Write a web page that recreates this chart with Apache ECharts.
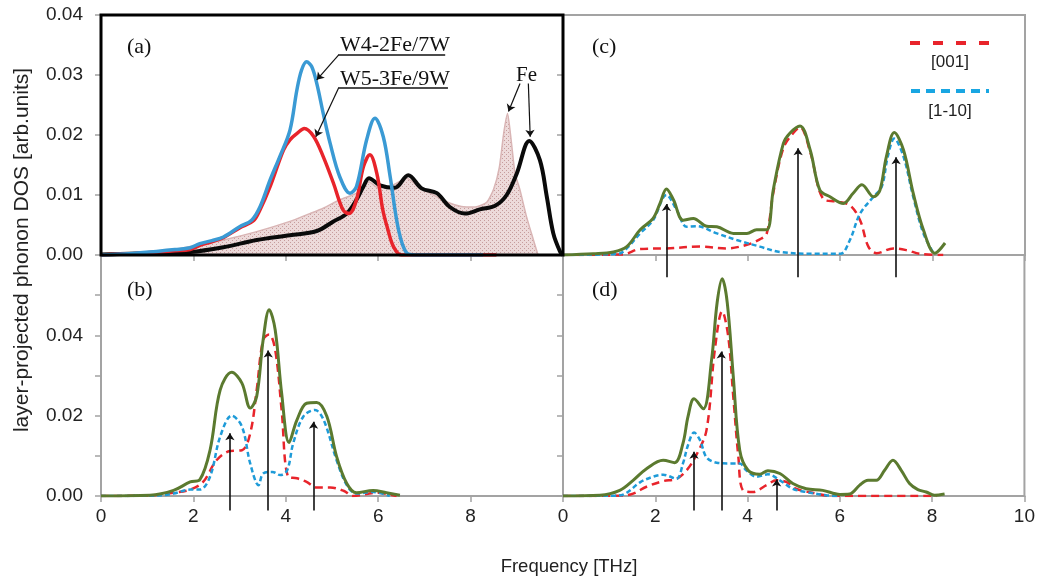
<!DOCTYPE html>
<html><head><meta charset="utf-8">
<script src="https://cdn.jsdelivr.net/npm/echarts/dist/echarts.min.js"></script>
<style>html,body{margin:0;padding:0;background:#fff}#c{width:1038px;height:582px}</style>
</head><body><div id="c"></div>
<script>
// ---------- data (frequency THz, DOS) ----------
const xTicks = [0, 2, 4, 6, 8, 10];
// panel (a)
const aBlue = [[0,0],[0.6,0.0002],[1.2,0.0006],[1.6,0.0009],[1.93,0.0012],[2.14,0.0019],[2.4,0.0024],[2.65,0.003],[3.0,0.0047],[3.26,0.0058],[3.44,0.008],[3.66,0.0125],[3.87,0.0164],[4.09,0.0208],[4.24,0.0275],[4.34,0.0308],[4.45,0.0322],[4.56,0.0314],[4.67,0.0286],[4.81,0.0236],[4.96,0.0186],[5.17,0.013],[5.39,0.0103],[5.53,0.0114],[5.75,0.0192],[5.93,0.0228],[6.11,0.0197],[6.26,0.013],[6.44,0.0042],[6.62,0.0003],[6.8,0],[8.27,0]];
const aRed = [[0,0],[0.6,0.0002],[1.2,0.0005],[1.6,0.0007],[1.93,0.0009],[2.14,0.0016],[2.4,0.0022],[2.65,0.0029],[3.0,0.0045],[3.3,0.0057],[3.44,0.0075],[3.66,0.0114],[3.95,0.0175],[4.09,0.0192],[4.25,0.0203],[4.4,0.0211],[4.6,0.0198],[4.81,0.0164],[5.03,0.012],[5.24,0.0075],[5.37,0.0069],[5.53,0.0092],[5.68,0.0147],[5.82,0.0167],[5.97,0.0136],[6.1,0.0075],[6.2,0.0045],[6.33,0.0014],[6.5,0],[7.5,0],[8.56,0]];
const aBlack = [[0,0.0001],[1.0,0.0003],[1.93,0.0005],[2.65,0.0013],[3.37,0.0025],[4.09,0.0033],[4.67,0.004],[5.03,0.0056],[5.32,0.0069],[5.53,0.0092],[5.68,0.0114],[5.8,0.0128],[6.04,0.0116],[6.36,0.0112],[6.65,0.0133],[6.94,0.0111],[7.27,0.0103],[7.55,0.008],[7.88,0.0069],[8.2,0.0076],[8.53,0.0082],[8.78,0.01],[9.0,0.0136],[9.27,0.019],[9.5,0.0158],[9.65,0.0097],[9.79,0.0036],[9.94,0.0005],[10,0]];
const aFe = [[0,0],[1.0,0.0003],[1.5,0.0008],[1.93,0.0014],[2.65,0.0025],[3.37,0.0039],[4.09,0.0056],[4.52,0.0069],[4.81,0.0078],[5.17,0.0092],[5.53,0.0103],[5.8,0.0122],[6.0,0.0112],[6.3,0.0116],[6.62,0.0128],[6.9,0.0112],[7.2,0.01],[7.5,0.0088],[7.8,0.0081],[8.1,0.008],[8.35,0.0088],[8.5,0.011],[8.62,0.0145],[8.72,0.0205],[8.8,0.0236],[8.88,0.019],[8.96,0.0137],[9.07,0.0108],[9.21,0.0064],[9.36,0.0025],[9.46,0]];
// panel (b)
const bGreen = [[0,0],[1.06,0.0002],[1.57,0.0014],[1.93,0.0035],[2.14,0.0041],[2.36,0.0114],[2.58,0.0264],[2.83,0.0308],[3.05,0.0281],[3.23,0.0219],[3.37,0.0248],[3.51,0.0389],[3.64,0.0464],[3.77,0.0414],[3.91,0.0256],[4.07,0.0133],[4.24,0.0189],[4.45,0.0231],[4.67,0.0233],[4.89,0.0198],[5.1,0.0098],[5.32,0.0031],[5.53,0.0008],[5.89,0.0014],[6.18,0.0008],[6.47,0.0002]];
const bRed = [[0,0],[1.0,0.0001],[1.57,0.0008],[1.93,0.0016],[2.21,0.0035],[2.5,0.0089],[2.79,0.0112],[3.05,0.0114],[3.23,0.0156],[3.37,0.0264],[3.51,0.0389],[3.64,0.0402],[3.77,0.0364],[3.91,0.0214],[4.05,0.0048],[4.24,0.0044],[4.45,0.0035],[4.67,0.0021],[4.96,0.0021],[5.25,0.0013],[5.46,0],[5.97,0.0008],[6.4,0]];
const bBlue = [[0,0],[1.2,0.0001],[1.57,0.0006],[1.93,0.0016],[2.14,0.0016],[2.36,0.0048],[2.58,0.0148],[2.83,0.02],[3.05,0.0173],[3.23,0.0081],[3.41,0.0027],[3.51,0.0056],[3.71,0.006],[3.88,0.0052],[4.03,0.0064],[4.16,0.0131],[4.38,0.0198],[4.63,0.0214],[4.82,0.0189],[5.1,0.0089],[5.32,0.0027],[5.53,0.0006],[5.89,0.001],[6.25,0]];
// panel (c)
const cGreen = [[0,0],[0.66,0.0002],[1.09,0.0005],[1.38,0.0014],[1.67,0.0042],[1.95,0.0061],[2.1,0.0086],[2.24,0.011],[2.39,0.0092],[2.6,0.0058],[2.82,0.0061],[3.11,0.0048],[3.33,0.0047],[3.69,0.0036],[3.98,0.0036],[4.19,0.0042],[4.41,0.0042],[4.55,0.0108],[4.77,0.0186],[4.91,0.0203],[5.13,0.0215],[5.35,0.0175],[5.56,0.0108],[5.78,0.0097],[6.07,0.0086],[6.28,0.0103],[6.47,0.0117],[6.72,0.0097],[6.86,0.0108],[7.0,0.0164],[7.17,0.0204],[7.37,0.0175],[7.58,0.0103],[7.8,0.0042],[8.05,0.0003],[8.27,0.002]];
const cRed = [[0,0],[1.3,0.0001],[1.67,0.001],[2.24,0.0011],[2.97,0.0014],[3.54,0.0011],[3.98,0.0017],[4.26,0.0026],[4.41,0.0036],[4.55,0.0103],[4.77,0.0178],[4.98,0.0203],[5.13,0.0213],[5.35,0.0172],[5.64,0.0093],[5.92,0.0089],[6.21,0.0083],[6.43,0.0058],[6.61,0.0014],[6.79,0.0003],[7.15,0.0011],[7.44,0.0008],[7.73,0.0002],[8.23,0]];
const cBlue = [[0,0],[1.2,0.0002],[1.38,0.0011],[1.67,0.0036],[1.95,0.0058],[2.24,0.01],[2.46,0.0075],[2.68,0.0047],[2.89,0.0048],[3.33,0.0036],[3.76,0.0025],[4.26,0.0014],[4.7,0.0005],[5.42,0.0002],[6.0,0.0002],[6.21,0.0025],[6.43,0.0069],[6.72,0.0097],[6.9,0.0114],[7.03,0.0164],[7.17,0.0194],[7.37,0.0164],[7.58,0.0097],[7.8,0.0036],[8.03,0.0002]];
// panel (d)
const dGreen = [[0,0],[0.8,0.0002],[1.23,0.0014],[1.52,0.0039],[1.81,0.0068],[2.17,0.0089],[2.42,0.0083],[2.6,0.0131],[2.71,0.0198],[2.84,0.0242],[3.04,0.0217],[3.22,0.0339],[3.34,0.0481],[3.45,0.0541],[3.56,0.0481],[3.69,0.0298],[3.83,0.0114],[4.01,0.0064],[4.26,0.0054],[4.44,0.0063],[4.7,0.0056],[4.98,0.0031],[5.27,0.0018],[5.63,0.0014],[6.0,0.0004],[6.21,0.0005],[6.43,0.0027],[6.61,0.0039],[6.79,0.0039],[6.97,0.0064],[7.15,0.0089],[7.33,0.0064],[7.51,0.0031],[7.69,0.0016],[7.87,0.001],[8.05,0.0002],[8.27,0.0005]];
const dRed = [[0,0],[1.3,0.0001],[1.52,0.0006],[1.81,0.0023],[2.17,0.0037],[2.46,0.0043],[2.68,0.0064],[2.89,0.0102],[3.11,0.0164],[3.29,0.0364],[3.45,0.046],[3.58,0.0398],[3.69,0.0248],[3.8,0.0098],[3.9,0.0014],[4.12,0.001],[4.41,0.0027],[4.63,0.0039],[4.84,0.0035],[5.05,0.0018],[5.41,0.0008],[5.84,0],[8.1,0]];
const dBlue = [[0,0],[1.2,0.0001],[1.38,0.0008],[1.67,0.0034],[1.95,0.0048],[2.17,0.0053],[2.46,0.0043],[2.6,0.0081],[2.71,0.0127],[2.84,0.0158],[2.97,0.0139],[3.11,0.0096],[3.33,0.0083],[3.61,0.0081],[3.83,0.0081],[3.97,0.0064],[4.19,0.0048],[4.44,0.0054],[4.7,0.0039],[4.98,0.0018],[5.27,0.001],[5.7,0.0002],[6.0,0]];
// vertical arrows: [frequency, tip value], base value below axis
const bArrows = [[2.79,0.0156],[3.62,0.0362],[4.6,0.0185]];
const cArrows = [[2.24,0.0085],[5.09,0.0178],[7.21,0.0163]];
const dArrows = [[2.84,0.011],[3.43,0.036],[4.63,0.0041]];
const arrowBaseTop = -0.0037, arrowBaseBottom = -0.0036;
// annotation pointers in (a): [from, to]
const aPointers = [[[5.14,0.0333],[4.67,0.0292]],[[5.14,0.0278],[4.65,0.0197]],[[9.07,0.0286],[8.82,0.0239]],[[9.25,0.0286],[9.29,0.0197]]];
const aUnderlines = [[[5.13,0.0333],[7.45,0.0333]],[[5.13,0.0278],[7.51,0.0278]]];
const labelsTop = ['0.00','0.01','0.02','0.03','0.04'];

// ---------- styles ----------
const GRAY = '#a3a3a3';
const RED = '#e8242b', BLUE = '#1e9bd8', GREEN = '#5b7a2f';
const sans = '"Liberation Sans", Arial, sans-serif';
const serif = '"Liberation Serif", "Times New Roman", serif';

const pc = document.createElement('canvas'); pc.width = 4; pc.height = 4;
const g = pc.getContext('2d');
g.fillStyle = 'rgba(236,214,214,1)'; g.fillRect(0,0,4,4);
g.fillStyle = 'rgba(192,146,146,1)'; g.fillRect(0,0,1,1); g.fillRect(2,2,1,1);

const grids = [
  {left:101, top:15, width:462, height:240, show:true, borderColor:'#000', borderWidth:3, z:5},
  {left:101, top:255, width:462, height:241, show:true, borderColor:GRAY, borderWidth:2},
  {left:563, top:15, width:462, height:240, show:true, borderColor:GRAY, borderWidth:2},
  {left:563, top:255, width:462, height:241, show:true, borderColor:GRAY, borderWidth:2}
];
function xAx(i, showLabel, showMax) {
  return {gridIndex:i, type:'value', min:xTicks[0], max:xTicks[xTicks.length-1], interval:2,
    axisLine:{show:true, onZero:false, lineStyle:{color:GRAY, width:2}},
    axisTick:{show:true, length:6, lineStyle:{color:GRAY, width:1.5}},
    splitLine:{show:false},
    axisLabel:{show:showLabel, showMaxLabel:showMax, margin:11, fontFamily:sans, fontSize:19, color:'#222'}};
}
function yAx(i, max, showLabel, fmt) {
  return {gridIndex:i, type:'value', min:0, max:max, interval:0.01,
    axisLine:{show:true, lineStyle:{color:GRAY, width:2}},
    axisTick:{show:true, length:6, lineStyle:{color:GRAY, width:1.5}},
    splitLine:{show:false},
    axisLabel:{show:showLabel, margin:18, fontFamily:sans, fontSize:19, color:'#222', formatter:fmt}};
}
const fmtTop = v => labelsTop[Math.round(v*100)] || '';
const fmtBot = v => { const k = Math.round(v*100); return (k % 2 === 0 && k < 6) ? v.toFixed(2) : ''; };

function line(i, data, color, width, dash, z) {
  return {type:'line', xAxisIndex:i, yAxisIndex:i, data:data, showSymbol:false, symbol:'none',
    smooth:0.35, z:z||3, lineStyle:{color:color, width:width, type:dash||'solid', cap:'butt'}};
}
function arrows(i, arr, base) {
  return {type:'lines', coordinateSystem:'cartesian2d', xAxisIndex:i, yAxisIndex:i, clip:false, z:6,
    symbol:['none','arrow'], symbolSize:7,
    lineStyle:{color:'#111', width:1.6, opacity:1},
    data: arr.map(p => ({coords:[[p[0], base],[p[0], p[1]]]}))};
}

const series = [
  {type:'line', xAxisIndex:0, yAxisIndex:0, data:aFe, showSymbol:false, symbol:'none', smooth:0.2, z:1,
    lineStyle:{color:'#d9b5b5', width:1.5}, areaStyle:{color:{image:pc, repeat:'repeat'}, opacity:0.9}},
  line(0, aBlack, '#0a0a0a', 4, 'solid', 2),
  line(0, aRed, RED, 3.5, 'solid', 3),
  line(0, aBlue, '#3a9ad4', 3.5, 'solid', 4),
  {type:'lines', coordinateSystem:'cartesian2d', xAxisIndex:0, yAxisIndex:0, clip:false, z:6,
    symbol:['none','arrow'], symbolSize:7, lineStyle:{color:'#111', width:1.2, opacity:1},
    data: aPointers.map(p => ({coords:p}))},
  {type:'lines', coordinateSystem:'cartesian2d', xAxisIndex:0, yAxisIndex:0, clip:false, z:6,
    symbol:['none','none'], lineStyle:{color:'#111', width:1.5, opacity:1},
    data: aUnderlines.map(p => ({coords:p}))},
  line(1, bRed, RED, 2.5, [8,5], 3),
  line(1, bBlue, BLUE, 2.5, [5,3], 3),
  line(1, bGreen, GREEN, 3, 'solid', 4),
  arrows(1, bArrows, arrowBaseBottom),
  line(2, cRed, RED, 2.5, [8,5], 3),
  line(2, cBlue, BLUE, 2.5, [5,3], 3),
  line(2, cGreen, GREEN, 3, 'solid', 4),
  arrows(2, cArrows, arrowBaseTop),
  line(3, dRed, RED, 2.5, [8,5], 3),
  line(3, dBlue, BLUE, 2.5, [5,3], 3),
  line(3, dGreen, GREEN, 3, 'solid', 4),
  arrows(3, dArrows, arrowBaseBottom)
];

function txt(x, y, text, font, align, rot, color) {
  return {type:'text', x:x, y:y, rotation:rot||0, z:10,
    style:{text:text, font:font, fill:color||'#111', align:align||'left', textAlign:align||'left',
      verticalAlign:'middle', textVerticalAlign:'middle'}};
}
const graphic = [
  txt(127, 47, '(a)', '22px ' + serif),
  txt(127, 290, '(b)', '22px ' + serif),
  txt(592, 47, '(c)', '22px ' + serif),
  txt(592, 290, '(d)', '22px ' + serif),
  txt(340, 45, 'W4-2Fe/7W', '22px ' + serif),
  txt(340, 79, 'W5-3Fe/9W', '22px ' + serif),
  txt(516, 75, 'Fe', '21px ' + serif),
  txt(22, 250, 'layer-projected phonon DOS [arb.units]', '21px ' + sans, 'center', Math.PI/2, '#222'),
  txt(569, 567, 'Frequency [THz]', '18.5px ' + sans, 'center', 0, '#222'),
  {type:'line', z:10, shape:{x1:910, y1:43, x2:989, y2:43}, style:{stroke:RED, lineWidth:4, lineDash:[10,13]}},
  {type:'line', z:10, shape:{x1:911, y1:91, x2:989, y2:91}, style:{stroke:'#19a6e2', lineWidth:4, lineDash:[9,6]}},
  txt(950, 62, '[001]', '17px ' + sans, 'center', 0, '#222'),
  txt(950, 111, '[1-10]', '17px ' + sans, 'center', 0, '#222')
];

const chart = echarts.init(document.getElementById('c'), null, {renderer:'canvas'});
chart.setOption({
  animation:false,
  backgroundColor:'#fff',
  grid: grids,
  xAxis: [xAx(0,false,false), xAx(1,true,false), xAx(2,false,false), xAx(3,true,true)],
  yAxis: [yAx(0,0.04,true,fmtTop), yAx(1,0.06,true,fmtBot), yAx(2,0.04,false), yAx(3,0.06,false)],
  series: series,
  graphic: graphic
});
</script></body></html>
